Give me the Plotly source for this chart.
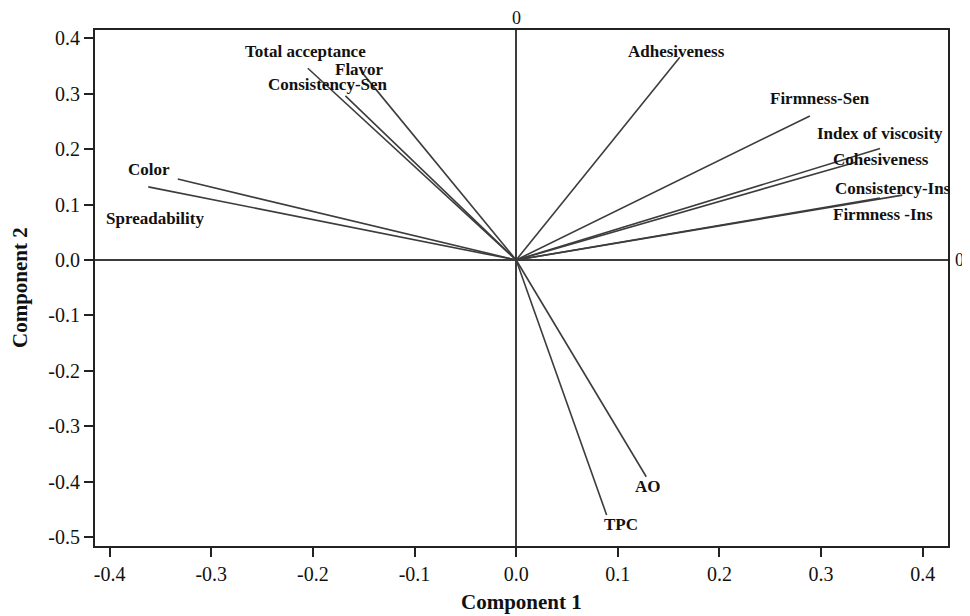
import plotly.graph_objects as go

# Loadings (Component 1, Component 2)
variables = ["Total acceptance", "Flavor", "Consistency-Sen", "Color", "Spreadability",
             "Adhesiveness", "Firmness-Sen", "Index of viscosity", "Cohesiveness",
             "Consistency-Ins", "Firmness -Ins", "AO", "TPC"]
comp1 = [-0.205, -0.152, -0.168, -0.333, -0.362,
         0.161, 0.289, 0.358, 0.335,
         0.380, 0.358, 0.128, 0.089]
comp2 = [0.346, 0.339, 0.296, 0.146, 0.132,
         0.366, 0.260, 0.201, 0.177,
         0.117, 0.112, -0.391, -0.460]

# Label anchor positions (data units)
label_x = [-0.2077, -0.1538, -0.185, -0.361, -0.355,
           0.158, 0.2985, 0.358, 0.359,
           0.371, 0.3605, 0.1296, 0.1033]
label_y = [0.376, 0.343, 0.316, 0.164, 0.075,
           0.376, 0.292, 0.228, 0.182,
           0.129, 0.0816, -0.409, -0.478]

x_ticks = [-0.4, -0.3, -0.2, -0.1, 0.0, 0.1, 0.2, 0.3, 0.4]
x_tick_labels = ["-0.4", "-0.3", "-0.2", "-0.1", "0.0", "0.1", "0.2", "0.3", "0.4"]
y_ticks = [-0.5, -0.4, -0.3, -0.2, -0.1, 0.0, 0.1, 0.2, 0.3, 0.4]
y_tick_labels = ["-0.5", "-0.4", "-0.3", "-0.2", "-0.1", "0.0", "0.1", "0.2", "0.3", "0.4"]

FONT = "Liberation Serif, Times New Roman, serif"
LINE = "#3c3c3c"

fig = go.Figure()
for name, x, y in zip(variables, comp1, comp2):
    fig.add_trace(go.Scatter(x=[0, x], y=[0, y], mode="lines",
                             line=dict(color=LINE, width=1.6),
                             name=name, showlegend=False, hoverinfo="skip"))

for name, lx, ly in zip(variables, label_x, label_y):
    fig.add_annotation(x=lx, y=ly, text="<b>%s</b>" % name, showarrow=False,
                       xanchor="center", yanchor="middle",
                       font=dict(family=FONT, size=17, color="#111"))

# "0" labels for the reference lines
fig.add_annotation(x=0, y=1, xref="x", yref="paper", text="0", showarrow=False,
                   yanchor="middle", yshift=12, font=dict(family=FONT, size=18, color="#111"))
fig.add_annotation(x=1, y=0, xref="paper", yref="y", text="0", showarrow=False,
                   xanchor="left", xshift=5, font=dict(family=FONT, size=18, color="#111"))

# Axis titles
fig.add_annotation(x=0.5, y=0, xref="paper", yref="paper", text="<b>Component 1</b>",
                   showarrow=False, yanchor="middle", yshift=-56,
                   font=dict(family=FONT, size=21, color="#111"))
fig.add_annotation(x=0, y=0.5, xref="paper", yref="paper", text="<b>Component 2</b>",
                   showarrow=False, textangle=-90, xanchor="center", xshift=-75,
                   font=dict(family=FONT, size=21, color="#111"))

axis_common = dict(showline=True, linecolor="#222", linewidth=2, mirror=True,
                   ticks="outside", ticklen=9, tickwidth=1.5, tickcolor="#222",
                   showgrid=False, zeroline=True, zerolinecolor=LINE, zerolinewidth=1.6,
                   tickfont=dict(family=FONT, size=20, color="#111"))

fig.update_xaxes(range=[-0.4144, 0.4249], tickvals=x_ticks, ticktext=x_tick_labels, **axis_common)
fig.update_yaxes(range=[-0.516, 0.415], tickvals=y_ticks, ticktext=y_tick_labels, **axis_common)

# the page body adds an 8px margin, so the figure is smaller and margins shifted
fig.update_layout(width=962, height=608, plot_bgcolor="white", paper_bgcolor="white",
                  margin=dict(l=87, r=22, t=22, b=70, autoexpand=False), showlegend=False)

fig.write_html("out.html")
